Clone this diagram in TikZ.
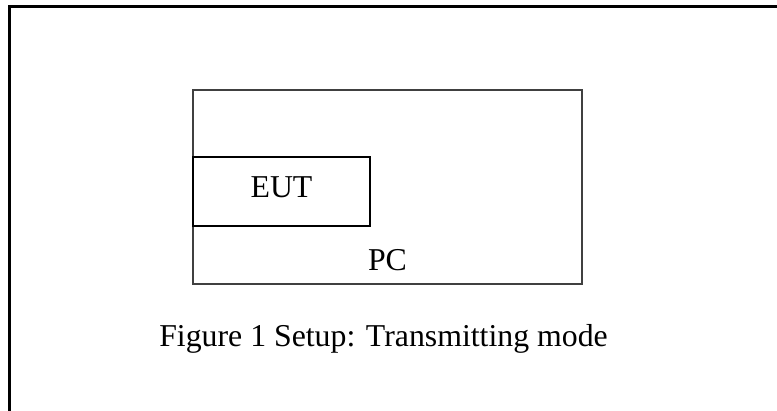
\documentclass[tikz,border=0pt]{standalone}
\usepackage{fontspec}
\setmainfont{Liberation Serif}
\usetikzlibrary{positioning}

\begin{document}
\begin{tikzpicture}[x=1pt,y=-1pt,node distance=2cm,
  every node/.style={font=\fontsize{31.8}{38}\selectfont}]
\useasboundingbox (0,0) rectangle (777,410);
\clip (0,0) rectangle (777,410);
% Outer frame
\draw[line width=2.5pt] (9.5,430) -- (9.5,6.5) -- (800,6.5);

% PC with EUT
\node[draw=black!75,rectangle,line width=1.2pt,minimum width=389pt,minimum height=194pt] (pc) at (387.5,187) {};
\node[draw,rectangle,line width=1.6pt,minimum width=177pt,minimum height=69pt,text depth=9pt] (eut) at (281.5,191.5) {EUT};
\node[anchor=base] (pclabel) at (387.5,270) {PC};

\node[anchor=base] (caption) at (383.5,346) {Figure 1 Setup: Transmitting mode};
\end{tikzpicture}
\end{document}
